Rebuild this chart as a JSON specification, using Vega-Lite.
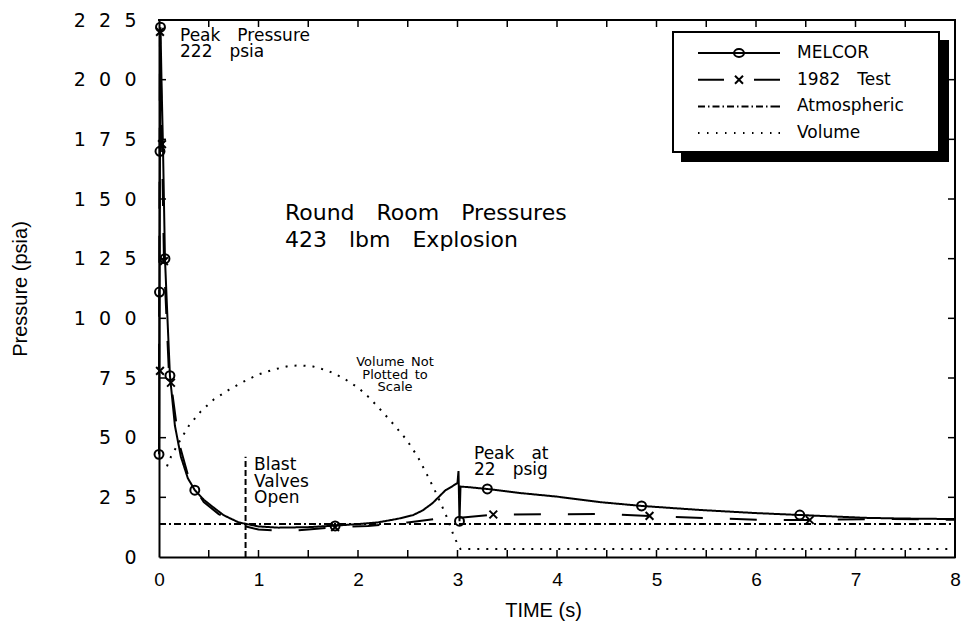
{
  "$schema": "https://vega.github.io/schema/vega-lite/v6.json",
  "width": 796,
  "height": 537,
  "autosize": "none",
  "padding": {"left": 159, "top": 20, "right": 11, "bottom": 80},
  "background": "white",
  "config": {
    "view": {"stroke": null},
    "axis": {
      "domainColor": "black", "domainWidth": 2, "ticks": false, "tickSize": 0,
      "labelColor": "black", "titleColor": "black", "grid": false,
      "titleFontWeight": "normal", "titleFont": "Liberation Sans"
    },
    "legend": {"strokeWidth": 2}
  },
  "datasets": {
    "series": [
      {"series": "MELCOR", "t": 0, "p": 43},
      {"series": "MELCOR", "t": 0.005, "p": 111},
      {"series": "MELCOR", "t": 0.01, "p": 170},
      {"series": "MELCOR", "t": 0.015, "p": 222},
      {"series": "MELCOR", "t": 0.025, "p": 200},
      {"series": "MELCOR", "t": 0.04, "p": 172},
      {"series": "MELCOR", "t": 0.06, "p": 125},
      {"series": "MELCOR", "t": 0.085, "p": 100},
      {"series": "MELCOR", "t": 0.11, "p": 76},
      {"series": "MELCOR", "t": 0.16, "p": 55},
      {"series": "MELCOR", "t": 0.22, "p": 42},
      {"series": "MELCOR", "t": 0.29, "p": 33},
      {"series": "MELCOR", "t": 0.36, "p": 28},
      {"series": "MELCOR", "t": 0.45, "p": 24},
      {"series": "MELCOR", "t": 0.54, "p": 21},
      {"series": "MELCOR", "t": 0.65, "p": 17.5},
      {"series": "MELCOR", "t": 0.8, "p": 14.5},
      {"series": "MELCOR", "t": 1.0, "p": 12.8},
      {"series": "MELCOR", "t": 1.2, "p": 12.3},
      {"series": "MELCOR", "t": 1.5, "p": 12.5},
      {"series": "MELCOR", "t": 1.79, "p": 13.2},
      {"series": "MELCOR", "t": 2.0, "p": 13.8},
      {"series": "MELCOR", "t": 2.2, "p": 14.5},
      {"series": "MELCOR", "t": 2.4, "p": 16},
      {"series": "MELCOR", "t": 2.55, "p": 17.5},
      {"series": "MELCOR", "t": 2.65, "p": 19.5},
      {"series": "MELCOR", "t": 2.75, "p": 22.6},
      {"series": "MELCOR", "t": 2.82, "p": 25.5},
      {"series": "MELCOR", "t": 2.88, "p": 28},
      {"series": "MELCOR", "t": 2.95, "p": 29.7},
      {"series": "MELCOR", "t": 3.0, "p": 31},
      {"series": "MELCOR", "t": 3.01, "p": 36},
      {"series": "MELCOR", "t": 3.02, "p": 15},
      {"series": "MELCOR", "t": 3.03, "p": 29.5},
      {"series": "MELCOR", "t": 3.1, "p": 29.3},
      {"series": "MELCOR", "t": 3.3, "p": 28.5},
      {"series": "MELCOR", "t": 3.63, "p": 26.8},
      {"series": "MELCOR", "t": 4.0, "p": 25.3},
      {"series": "MELCOR", "t": 4.43, "p": 23},
      {"series": "MELCOR", "t": 4.85, "p": 21.4},
      {"series": "MELCOR", "t": 5.44, "p": 19.7},
      {"series": "MELCOR", "t": 6.0, "p": 18.4},
      {"series": "MELCOR", "t": 6.44, "p": 17.6},
      {"series": "MELCOR", "t": 7.1, "p": 16.4},
      {"series": "MELCOR", "t": 7.5, "p": 16.1},
      {"series": "MELCOR", "t": 8.0, "p": 15.9},
      {"series": "1982 Test", "t": 0, "p": 78},
      {"series": "1982 Test", "t": 0.01, "p": 220},
      {"series": "1982 Test", "t": 0.02, "p": 200},
      {"series": "1982 Test", "t": 0.03, "p": 173},
      {"series": "1982 Test", "t": 0.05, "p": 124},
      {"series": "1982 Test", "t": 0.1, "p": 77},
      {"series": "1982 Test", "t": 0.12, "p": 73},
      {"series": "1982 Test", "t": 0.2, "p": 48},
      {"series": "1982 Test", "t": 0.3, "p": 33},
      {"series": "1982 Test", "t": 0.45, "p": 23},
      {"series": "1982 Test", "t": 0.6, "p": 18},
      {"series": "1982 Test", "t": 0.8, "p": 13.5},
      {"series": "1982 Test", "t": 1.0, "p": 11.5},
      {"series": "1982 Test", "t": 1.3, "p": 10.8},
      {"series": "1982 Test", "t": 1.5, "p": 11.5},
      {"series": "1982 Test", "t": 1.75, "p": 12.5},
      {"series": "1982 Test", "t": 2.1, "p": 13},
      {"series": "1982 Test", "t": 2.5, "p": 14.5},
      {"series": "1982 Test", "t": 2.8, "p": 16},
      {"series": "1982 Test", "t": 3.0, "p": 16.3},
      {"series": "1982 Test", "t": 3.36, "p": 17.8},
      {"series": "1982 Test", "t": 4.5, "p": 18},
      {"series": "1982 Test", "t": 4.93, "p": 17.2},
      {"series": "1982 Test", "t": 5.5, "p": 16.3},
      {"series": "1982 Test", "t": 6.1, "p": 15.5},
      {"series": "1982 Test", "t": 6.54, "p": 15.5},
      {"series": "1982 Test", "t": 7.3, "p": 16},
      {"series": "1982 Test", "t": 8.0, "p": 15.6},
      {"series": "Atmospheric", "t": 0, "p": 13.8},
      {"series": "Atmospheric", "t": 8, "p": 13.8},
      {"series": "Volume", "t": 0.08, "p": 38},
      {"series": "Volume", "t": 0.12, "p": 42},
      {"series": "Volume", "t": 0.2, "p": 48},
      {"series": "Volume", "t": 0.3, "p": 55},
      {"series": "Volume", "t": 0.42, "p": 61},
      {"series": "Volume", "t": 0.55, "p": 66},
      {"series": "Volume", "t": 0.7, "p": 70},
      {"series": "Volume", "t": 0.85, "p": 73.5},
      {"series": "Volume", "t": 1.0, "p": 76.5},
      {"series": "Volume", "t": 1.15, "p": 78.5},
      {"series": "Volume", "t": 1.3, "p": 80},
      {"series": "Volume", "t": 1.42, "p": 80.3},
      {"series": "Volume", "t": 1.55, "p": 79.8},
      {"series": "Volume", "t": 1.7, "p": 78},
      {"series": "Volume", "t": 1.85, "p": 75},
      {"series": "Volume", "t": 2.0, "p": 71},
      {"series": "Volume", "t": 2.12, "p": 66.5},
      {"series": "Volume", "t": 2.22, "p": 62},
      {"series": "Volume", "t": 2.36, "p": 55.5},
      {"series": "Volume", "t": 2.49, "p": 49},
      {"series": "Volume", "t": 2.6, "p": 42},
      {"series": "Volume", "t": 2.7, "p": 34},
      {"series": "Volume", "t": 2.8, "p": 25.5},
      {"series": "Volume", "t": 2.9, "p": 16},
      {"series": "Volume", "t": 2.97, "p": 8},
      {"series": "Volume", "t": 3.03, "p": 3.3},
      {"series": "Volume", "t": 8.0, "p": 3.3}
    ],
    "melcorMarks": [
      {"t": 0, "p": 43}, {"t": 0.005, "p": 111}, {"t": 0.01, "p": 170}, {"t": 0.015, "p": 222},
      {"t": 0.06, "p": 125}, {"t": 0.11, "p": 76}, {"t": 0.36, "p": 28}, {"t": 1.77, "p": 13},
      {"t": 3.02, "p": 15}, {"t": 3.3, "p": 28.5}, {"t": 4.85, "p": 21.4}, {"t": 6.44, "p": 17.6}
    ],
    "testMarks": [
      {"t": 0.01, "p": 220}, {"t": 0.03, "p": 173}, {"t": 0.05, "p": 124}, {"t": 0.01, "p": 78},
      {"t": 0.12, "p": 73}, {"t": 1.77, "p": 12.5}, {"t": 3.36, "p": 17.8}, {"t": 4.93, "p": 17.2},
      {"t": 6.54, "p": 15.5}
    ],
    "valve": [{"t": 0.87, "p0": 0, "p1": 42}],
    "frame": [
      {"t": 0, "t2": 8, "p": 225, "p2": 225},
      {"t": 8, "t2": 8, "p": 0, "p2": 225}
    ],
    "xticks": [
      {"t": 0.5}, {"t": 1}, {"t": 1.5}, {"t": 2}, {"t": 2.5}, {"t": 3}, {"t": 3.5}, {"t": 4},
      {"t": 4.5}, {"t": 5}, {"t": 5.5}, {"t": 6}, {"t": 6.5}, {"t": 7}, {"t": 7.5}
    ],
    "yticks": [
      {"p": 25}, {"p": 50}, {"p": 75}, {"p": 100}, {"p": 125}, {"p": 150}, {"p": 175}, {"p": 200}
    ],
    "notesMid": [
      {"t": 0.211, "p": 218.3, "text": "Peak\u2003Pressure"},
      {"t": 0.211, "p": 211.6, "text": "222\u2003psia"},
      {"t": 0.955, "p": 38.5, "text": "Blast"},
      {"t": 0.955, "p": 31.4, "text": "Valves"},
      {"t": 0.955, "p": 24.7, "text": "Open"},
      {"t": 3.166, "p": 43.2, "text": "Peak\u2003at"},
      {"t": 3.166, "p": 36.4, "text": "22\u2003psig"}
    ],
    "notesBig": [
      {"t": 1.266, "p": 144.1, "text": "Round\u2003Room\u2003Pressures"},
      {"t": 1.266, "p": 132.8, "text": "423\u2003lbm\u2003Explosion"}
    ],
    "notesSmall": [
      {"t": 2.372, "p": 81.7, "text": "Volume\u2002Not"},
      {"t": 2.372, "p": 76.2, "text": "Plotted\u2002to"},
      {"t": 2.372, "p": 71.2, "text": "Scale"}
    ]
  },
  "layer": [
    {
      "data": {"name": "series"},
      "mark": {"type": "line", "strokeWidth": 2, "clip": false},
      "encoding": {
        "x": {
          "field": "t", "type": "quantitative",
          "scale": {"domain": [0, 8], "nice": false, "zero": false},
          "axis": {
            "orient": "bottom", "title": "TIME (s)",
            "values": [0, 1, 2, 3, 4, 5, 6, 7, 8],
            "format": "d",
            "labelFont": "Liberation Sans", "labelFontSize": 19, "labelPadding": 13,
            "labelFlush": false, "labelOverlap": false,
            "titleFontSize": 20, "titleX": 384, "titleY": 53, "titleBaseline": "middle"
          }
        },
        "y": {
          "field": "p", "type": "quantitative",
          "scale": {"domain": [0, 225], "nice": false, "zero": false},
          "axis": {
            "orient": "left", "title": "Pressure (psia)",
            "values": [0, 25, 50, 75, 100, 125, 150, 175, 200, 225],
            "labelExpr": "join(split(datum.label, ''), '\u2002\u2009')",
            "labelFont": "DejaVu Sans", "labelFontSize": 19, "labelPadding": 23,
            "titleFontSize": 20, "titleX": -139, "titleBaseline": "middle"
          }
        },
        "color": {
          "field": "series", "type": "nominal",
          "scale": {"domain": ["MELCOR", "1982 Test", "Atmospheric", "Volume"], "range": ["black", "black", "black", "black"]},
          "legend": {
            "title": null, "orient": "none", "legendX": 514, "legendY": 12, "zindex": 1,
            "fillColor": "white", "strokeColor": "black", "padding": 10,
            "symbolSize": 400, "symbolStrokeWidth": 2, "symbolStrokeColor": "black", "symbolFillColor": "transparent",
            "symbolType": {"expr": "datum.value === 'MELCOR' ? 'M-4.1,0H4.1M-0.5,0A0.5,0.4 0 1,0 0.5,0A0.5,0.4 0 1,0 -0.5,0' : datum.value === '1982 Test' ? 'M-4.1,0H-1.5M1.5,0H4.1M-0.4,-0.4L0.4,0.4M-0.4,0.4L0.4,-0.4' : datum.value === 'Atmospheric' ? 'M-4.1,0H-3.4M-3.1,0H-2.95M-2.65,0H-1.95M-1.65,0H-1.5M-1.2,0H-0.5M-0.2,0H-0.05M0.25,0H0.95M1.25,0H1.4M1.7,0H2.4M2.7,0H2.85M3.15,0H4.1' : 'M-4.1,0H-3.95M-3.2,0H-3.05M-2.3,0H-2.15M-1.4,0H-1.25M-0.5,0H-0.35M0.4,0H0.55M1.3,0H1.45M2.2,0H2.35M3.1,0H3.25M3.95,0H4.1'"},
            "symbolOffset": 45, "labelOffset": 47, "rowPadding": 7.7,
            "labelFont": "DejaVu Sans", "labelFontSize": 17, "labelColor": "black",
            "labelExpr": "replace(datum.label, ' ', '\u2003') + '\u2800\u2800'"
          }
        },
        "strokeDash": {
          "field": "series", "type": "nominal",
          "scale": {"domain": ["Volume", "Atmospheric", "1982 Test", "MELCOR"], "range": [[2, 7], [7, 3, 2, 3], [27, 27], [1, 0]]},
          "legend": {
            "title": null, "orient": "none", "legendX": 523, "legendY": 21, "zindex": 0,
            "fillColor": "black", "strokeColor": "black", "padding": 10,
            "symbolSize": 400, "symbolStrokeWidth": 2, "symbolStrokeColor": "black", "symbolFillColor": "transparent",
            "symbolType": "M-4.1,0H4.1",
            "symbolOffset": 45, "labelOffset": 47, "rowPadding": 7.7,
            "labelFont": "DejaVu Sans", "labelFontSize": 17, "labelColor": "black",
            "labelExpr": "replace(datum.label, ' ', '\u2003') + '\u2800\u2800'"
          }
        }
      }
    },
    {
      "data": {"name": "frame"},
      "mark": {"type": "rule", "strokeWidth": 2, "color": "black", "strokeCap": "square"},
      "encoding": {
        "x": {"field": "t", "type": "quantitative", "scale": {"domain": [0, 8], "nice": false, "zero": false}},
        "x2": {"field": "t2"},
        "y": {"field": "p", "type": "quantitative", "scale": {"domain": [0, 225], "nice": false, "zero": false}},
        "y2": {"field": "p2"}
      }
    },
    {
      "data": {"name": "xticks"},
      "mark": {"type": "rule", "strokeWidth": 1.5, "color": "black", "y2Offset": -7},
      "encoding": {
        "x": {"field": "t", "type": "quantitative", "scale": {"domain": [0, 8], "nice": false, "zero": false}},
        "y": {"datum": 0, "type": "quantitative", "scale": {"domain": [0, 225], "nice": false, "zero": false}},
        "y2": {"datum": 0}
      }
    },
    {
      "data": {"name": "xticks"},
      "mark": {"type": "rule", "strokeWidth": 1.5, "color": "black", "y2Offset": 7},
      "encoding": {
        "x": {"field": "t", "type": "quantitative", "scale": {"domain": [0, 8], "nice": false, "zero": false}},
        "y": {"datum": 225, "type": "quantitative", "scale": {"domain": [0, 225], "nice": false, "zero": false}},
        "y2": {"datum": 225}
      }
    },
    {
      "data": {"name": "yticks"},
      "mark": {"type": "rule", "strokeWidth": 1.5, "color": "black", "x2Offset": 7},
      "encoding": {
        "y": {"field": "p", "type": "quantitative", "scale": {"domain": [0, 225], "nice": false, "zero": false}},
        "x": {"datum": 0, "type": "quantitative", "scale": {"domain": [0, 8], "nice": false, "zero": false}},
        "x2": {"datum": 0}
      }
    },
    {
      "data": {"name": "yticks"},
      "mark": {"type": "rule", "strokeWidth": 1.5, "color": "black", "x2Offset": -7},
      "encoding": {
        "y": {"field": "p", "type": "quantitative", "scale": {"domain": [0, 225], "nice": false, "zero": false}},
        "x": {"datum": 8, "type": "quantitative", "scale": {"domain": [0, 8], "nice": false, "zero": false}},
        "x2": {"datum": 8}
      }
    },
    {
      "data": {"name": "valve"},
      "mark": {"type": "rule", "strokeDash": [6, 3], "strokeWidth": 2, "color": "black"},
      "encoding": {
        "x": {"field": "t", "type": "quantitative", "scale": {"domain": [0, 8], "nice": false, "zero": false}},
        "y": {"field": "p0", "type": "quantitative", "scale": {"domain": [0, 225], "nice": false, "zero": false}},
        "y2": {"field": "p1"}
      }
    },
    {
      "data": {"name": "melcorMarks"},
      "mark": {"type": "point", "shape": "circle", "filled": false, "size": 80, "strokeWidth": 2, "color": "black", "opacity": 1, "clip": false},
      "encoding": {
        "x": {"field": "t", "type": "quantitative", "scale": {"domain": [0, 8], "nice": false, "zero": false}},
        "y": {"field": "p", "type": "quantitative", "scale": {"domain": [0, 225], "nice": false, "zero": false}}
      }
    },
    {
      "data": {"name": "testMarks"},
      "mark": {"type": "point", "shape": "M-1,-1L1,1M-1,1L1,-1", "filled": false, "size": 60, "strokeWidth": 2, "color": "black", "opacity": 1, "clip": false},
      "encoding": {
        "x": {"field": "t", "type": "quantitative", "scale": {"domain": [0, 8], "nice": false, "zero": false}},
        "y": {"field": "p", "type": "quantitative", "scale": {"domain": [0, 225], "nice": false, "zero": false}}
      }
    },
    {
      "data": {"name": "notesMid"},
      "mark": {"type": "text", "align": "left", "baseline": "middle", "font": "DejaVu Sans", "fontSize": 17, "color": "black"},
      "encoding": {
        "x": {"field": "t", "type": "quantitative", "scale": {"domain": [0, 8], "nice": false, "zero": false}},
        "y": {"field": "p", "type": "quantitative", "scale": {"domain": [0, 225], "nice": false, "zero": false}},
        "text": {"field": "text"}
      }
    },
    {
      "data": {"name": "notesBig"},
      "mark": {"type": "text", "align": "left", "baseline": "middle", "font": "DejaVu Sans", "fontSize": 22, "color": "black"},
      "encoding": {
        "x": {"field": "t", "type": "quantitative", "scale": {"domain": [0, 8], "nice": false, "zero": false}},
        "y": {"field": "p", "type": "quantitative", "scale": {"domain": [0, 225], "nice": false, "zero": false}},
        "text": {"field": "text"}
      }
    },
    {
      "data": {"name": "notesSmall"},
      "mark": {"type": "text", "align": "center", "baseline": "middle", "font": "DejaVu Sans", "fontSize": 13, "color": "black"},
      "encoding": {
        "x": {"field": "t", "type": "quantitative", "scale": {"domain": [0, 8], "nice": false, "zero": false}},
        "y": {"field": "p", "type": "quantitative", "scale": {"domain": [0, 225], "nice": false, "zero": false}},
        "text": {"field": "text"}
      }
    }
  ]
}
